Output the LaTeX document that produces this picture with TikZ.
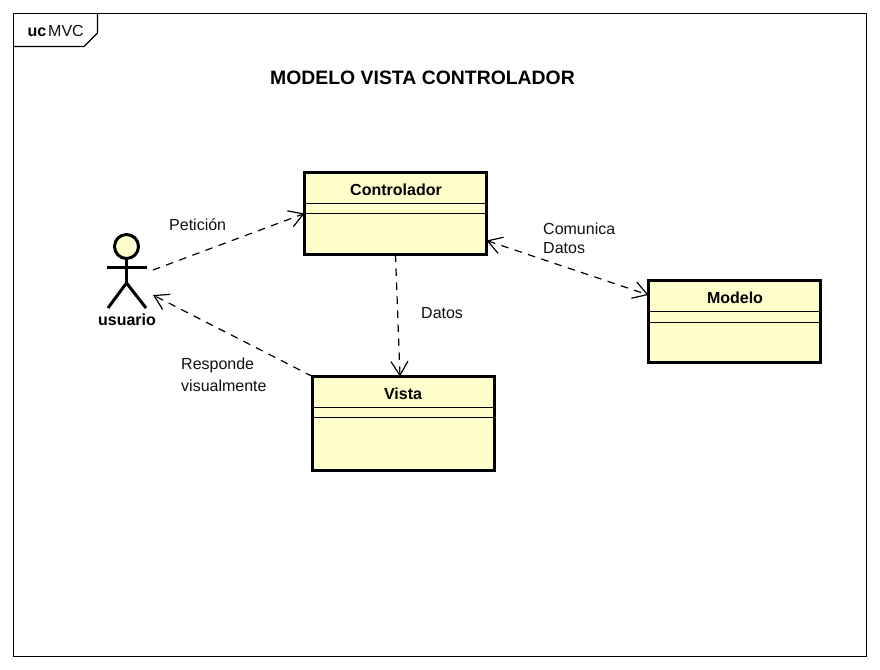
\documentclass[tikz,border=0pt]{standalone}
\usepackage{fontspec}
\setmainfont{Liberation Sans}
\usetikzlibrary{arrows.meta}
\definecolor{umlfill}{HTML}{FFFFCC}
\definecolor{ink}{HTML}{111111}
\tikzset{
  classbox/.style={draw=black,fill=umlfill,line width=3pt,minimum width=#1,inner sep=0pt,outer sep=0pt,anchor=north west},
  sep/.style={draw=black,line width=1pt},
  rel/.style={draw=black,line width=1.2pt,dash pattern=on 7.5pt off 6.5pt},
  openhead/.tip={Straight Barb[length=14pt,width=17pt,line width=1.2pt]},
  lbl/.style={font=\fontsize{16}{20}\selectfont,text=ink,align=left,anchor=west,inner sep=0pt},
  bold/.style={font=\fontsize{16}{20}\selectfont\bfseries,text=black,inner sep=0pt},
  actorline/.style={draw=black,line width=3pt,line cap=butt},
}
\begin{document}
\begin{tikzpicture}[x=1pt,y=-1pt]
\useasboundingbox (0,0) rectangle (880,669);
\fill[white] (0,0) rectangle (880,669);
% frame
\node[draw=black,line width=1.3pt,minimum width=853pt,minimum height=643pt,inner sep=0pt,outer sep=0pt,anchor=north west] (frame) at (13.5,13.5) {};
\draw[black,line width=1.3pt] (13.5,46.5) -- (84,46.5) -- (97.5,33) -- (97.5,13.5);
\node[anchor=base west,inner sep=0pt,font=\fontsize{16}{20}\selectfont\bfseries] (uc) at (27.5,36.5) {uc};
\node[anchor=base west,inner sep=0pt,font=\fontsize{16}{20}\selectfont,text=ink] (mvc) at (48,36.5) {MVC};
\node[inner sep=0pt,font=\fontsize{19.4}{24}\selectfont\bfseries] (title) at (422.5,77.5) {MODELO VISTA CONTROLADOR};
% classes
\node[classbox=182pt,minimum height=82pt] (ctrl) at (304.5,172.5) {};
\draw[sep] (304.5,203) -- (486.5,203) (304.5,213.5) -- (486.5,213.5);
\node[bold] (ctrlt) at (396,189.5) {Controlador};
\node[classbox=172pt,minimum height=82pt] (model) at (648.5,280.5) {};
\draw[sep] (648.5,311) -- (820.5,311) (648.5,322) -- (820.5,322);
\node[bold] (modelt) at (735,297.5) {Modelo};
\node[classbox=182pt,minimum height=94pt] (vista) at (312.5,376.5) {};
\draw[sep] (312.5,407) -- (494.5,407) (312.5,417.5) -- (494.5,417.5);
\node[bold] (vistat) at (403,393.5) {Vista};
% actor
\node[draw=black,fill=umlfill,circle,line width=3pt,minimum size=24pt,inner sep=0pt,outer sep=0pt] (head) at (126.5,246.5) {};
\coordinate (hip) at (126.5,283);
\draw[actorline] (head.south) -- (hip);
\draw[actorline] (107,267) -- (147,267);
\draw[actorline] (108,308) -- (hip) -- (146,308);
\node[bold] (actor) at (127,320) {usuario};
\coordinate (a1) at (153,270);
\coordinate (a2) at (153,295);
% connectors
\draw[rel,-openhead] (a1) -- (ctrl.west);
\draw[rel,-openhead] (vista.north west) -- (a2);
\draw[rel,-openhead] (ctrl.south) -- ([xshift=-3.5pt]vista.north);
\draw[rel,openhead-openhead] ([yshift=14pt]ctrl.south east) -- ([yshift=26.5pt]model.west);
% labels
\node[lbl] (l1) at (169,224.5) {Petición};
\node[lbl] (l2) at (543,228.5) {Comunica};
\node[lbl] (l3) at (543,248.5) {Datos};
\node[lbl] (l4) at (421,313.5) {Datos};
\node[lbl] (l5) at (181,365.5) {Responde};
\node[lbl] (l6) at (181,385.5) {visualmente};
\end{tikzpicture}
\end{document}
